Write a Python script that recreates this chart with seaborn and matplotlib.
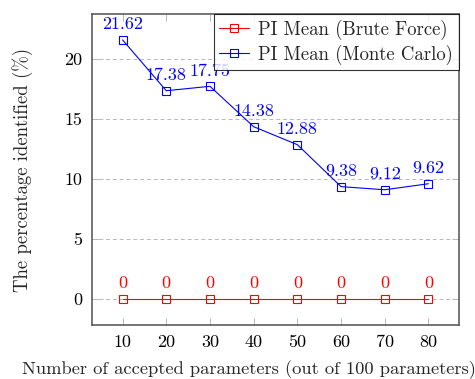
import matplotlib
matplotlib.use("Agg")
import matplotlib.pyplot as plt
import seaborn as sns
import pandas as pd

accepted = [10, 20, 30, 40, 50, 60, 70, 80]
brute_force = [0, 0, 0, 0, 0, 0, 0, 0]
monte_carlo = [21.62, 17.38, 17.75, 14.38, 12.88, 9.38, 9.12, 9.62]
brute_labels = ["0", "0", "0", "0", "0", "0", "0", "0"]
monte_labels = ["21.62", "17.38", "17.75", "14.38", "12.88", "9.38", "9.12", "9.62"]
yticks = [0, 5, 10, 15, 20]

sns.set_theme(style="white")
plt.rcParams["font.family"] = ["cmr10", "DejaVu Serif"]
plt.rcParams["axes.formatter.use_mathtext"] = True

fig = plt.figure(figsize=(4.75, 3.79), dpi=100)
ax = fig.add_axes([92/475, 1-325/379, 367/475, 311/379])

df_b = pd.DataFrame({"x": accepted, "y": brute_force})
df_m = pd.DataFrame({"x": accepted, "y": monte_carlo})

sns.lineplot(data=df_b, x="x", y="y", ax=ax, color="red", marker="s",
             markersize=6.3, markerfacecolor="none", markeredgecolor="red",
             markeredgewidth=0.8, linewidth=0.8, label="PI Mean (Brute Force)", zorder=3)
sns.lineplot(data=df_m, x="x", y="y", ax=ax, color="blue", marker="s",
             markersize=6.3, markerfacecolor="none", markeredgecolor="blue",
             markeredgewidth=0.8, linewidth=0.8, label="PI Mean (Monte Carlo)", zorder=3)

for x, y, t in zip(accepted, brute_force, brute_labels):
    ax.annotate(t, (x, y), xytext=(0, 5.5), textcoords="offset points",
                ha="center", va="bottom", color="red", fontsize=13)
for x, y, t in zip(accepted, monte_carlo, monte_labels):
    ax.annotate(t, (x, y), xytext=(0, 5.5), textcoords="offset points",
                ha="center", va="bottom", color="blue", fontsize=13)

ax.set_xlim(3, 87)
ax.set_ylim(-2.162, 23.78)
ax.set_xticks(accepted)
ax.set_yticks(yticks)
ax.set_xticklabels([str(v) for v in accepted])
ax.set_yticklabels([str(v) for v in yticks])
ax.yaxis.grid(True, linestyle=(0, (4, 3)), color="#b8b8b8", linewidth=0.7)
ax.xaxis.grid(False)
ax.tick_params(axis="both", direction="in", length=5, width=0.7, color="#b8b8b8",
               labelsize=13, pad=7, top=True, right=True, bottom=True, left=True,
               labelcolor="black")
for s in ax.spines.values():
    s.set_color("#505050")
    s.set_linewidth(1.1)

ax.set_ylabel("The percentage identified (%)", fontsize=13.5)
ax.yaxis.set_label_coords(-0.162, 0.5)
ax.set_xlabel("Number of accepted parameters (out of 100 parameters)", fontsize=13.3)
ax.xaxis.set_label_coords(-0.19, -0.1576)
ax.xaxis.label.set_ha("left")
ax.xaxis.label.set_va("baseline")

leg = ax.legend(loc="upper right", fontsize=13.5, frameon=True, fancybox=False,
                borderaxespad=0, handlelength=1.6, handletextpad=0.5,
                borderpad=0.3, labelspacing=0.25)
leg.get_frame().set_edgecolor("black")
leg.get_frame().set_linewidth(0.8)

fig.savefig("out.png", dpi=100)
